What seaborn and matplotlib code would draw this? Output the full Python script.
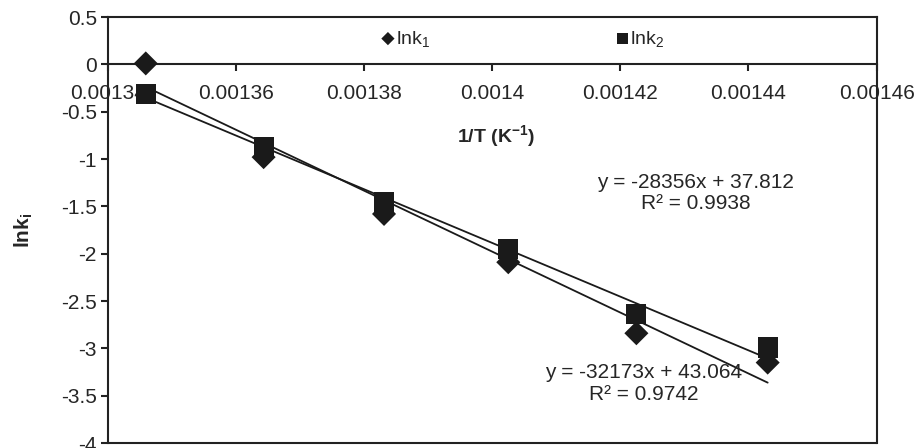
import numpy as np
import pandas as pd
import seaborn as sns
import matplotlib.pyplot as plt

# 1/T values (K^-1)
inv_t = [0.0013459, 0.0013643, 0.0013831, 0.0014025, 0.0014225, 0.0014430]
lnk1 = [0.01, -0.98, -1.58, -2.09, -2.84, -3.15]
lnk2 = [-0.31, -0.87, -1.45, -1.95, -2.64, -2.99]

# trendline coefficients as printed on the chart
fit1 = (-32173, 43.064, 0.9742)
fit2 = (-28356, 37.812, 0.9938)

x_ticks = [0.00134, 0.00136, 0.00138, 0.0014, 0.00142, 0.00144, 0.00146]
x_tick_labels = ["0.00134", "0.00136", "0.00138", "0.0014", "0.00142", "0.00144", "0.00146"]
y_ticks = [-4, -3.5, -3, -2.5, -2, -1.5, -1, -0.5, 0, 0.5]
y_tick_labels = ["-4", "-3.5", "-3", "-2.5", "-2", "-1.5", "-1", "-0.5", "0", "0.5"]

sns.set_style("white")
plt.rcParams["font.family"] = ["Liberation Sans", "DejaVu Sans"]
plt.rcParams["mathtext.fontset"] = "custom"
plt.rcParams["mathtext.rm"] = "Liberation Sans"
plt.rcParams["mathtext.it"] = "Liberation Sans"
plt.rcParams["mathtext.bf"] = "Liberation Sans:bold"

ink = "#1a1a1a"
data = pd.DataFrame({"x": inv_t * 2,
                     "y": lnk1 + lnk2,
                     "series": ["lnk1"] * 6 + ["lnk2"] * 6})

fig = plt.figure(figsize=(9.15, 4.48), dpi=100)
ax = fig.add_axes([0.118, 0.011, 0.840, 0.951])

# trendlines
xs = np.array([min(inv_t), max(inv_t)])
for slope, icpt, _ in (fit1, fit2):
    sns.lineplot(x=xs, y=slope * xs + icpt, ax=ax, color=ink, lw=1.3, zorder=2)

sns.scatterplot(data=data[data.series == "lnk1"], x="x", y="y", marker="D", s=150,
                color=ink, edgecolor="none", ax=ax, zorder=3, label="lnk$_1$")
sns.scatterplot(data=data[data.series == "lnk2"], x="x", y="y", marker="s", s=210,
                color=ink, edgecolor="none", ax=ax, zorder=3, label="lnk$_2$")

ax.set_xlim(0.00134, 0.00146)
ax.set_ylim(-4, 0.5)
ax.set_xticks(x_ticks)
ax.set_xticklabels(x_tick_labels)
ax.set_yticks(y_ticks)
ax.set_yticklabels(y_tick_labels)

for side in ["top", "right", "left", "bottom"]:
    ax.spines[side].set_color("#222222")
    ax.spines[side].set_linewidth(1.5)
ax.spines["bottom"].set_position(("data", 0))
ax.plot([0, 1], [0, 0], transform=ax.transAxes, color="#222222", lw=1.5, clip_on=False)

ax.tick_params(axis="both", which="major", direction="out", length=5, width=1.5,
               color="#222222", labelsize=15, bottom=True, left=True)
ax.tick_params(axis="x", pad=9)
ax.tick_params(axis="y", pad=3)

ax.set_xlabel("$\\mathbf{1/T\\ (K^{-1})}$", fontsize=14)
ax.xaxis.set_label_coords(0.505, 0.75)
ax.xaxis.label.set_va("top")
ax.set_ylabel("$\\mathbf{lnk_i}$", fontsize=15)
ax.yaxis.set_label_coords(-0.095, 0.5)

ax.text(0.0014318, -1.246, "y = -28356x + 37.812", ha="center", va="center", fontsize=15)
ax.text(0.0014318, -1.468, "R² = 0.9938", ha="center", va="center", fontsize=15)
ax.text(0.0014236, -3.252, "y = -32173x + 43.064", ha="center", va="center", fontsize=15)
ax.text(0.0014236, -3.485, "R² = 0.9742", ha="center", va="center", fontsize=15)

leg = ax.legend(loc="upper center", bbox_to_anchor=(0.54, 1.0), ncol=2, frameon=False,
                fontsize=14, markerscale=0.55, handlelength=0.6, handletextpad=0.1,
                columnspacing=9.6, borderaxespad=0.2)

fig.savefig("out.png", dpi=100)
